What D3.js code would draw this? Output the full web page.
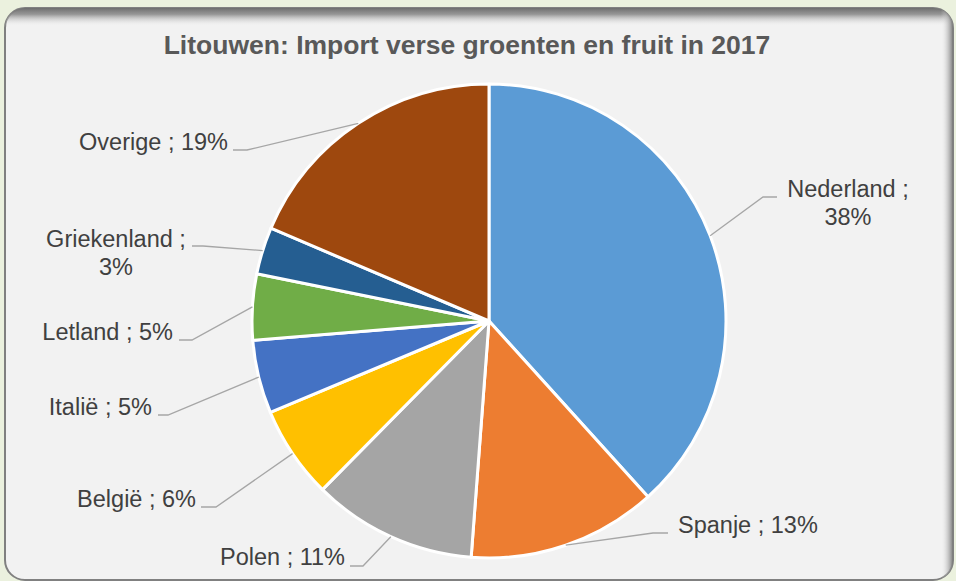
<!DOCTYPE html>
<html>
<head>
<meta charset="utf-8">
<script src="https://cdn.jsdelivr.net/npm/d3@7"></script>
<style>
  body { margin: 0; background: #ebf1de; }
  svg { display: block; }
</style>
</head>
<body>
<div id="chart-area"></div>
<script>
/*
*    Litouwen import pie
*/

// Data
var countries = ["Nederland", "Spanje", "Polen", "België", "Italië", "Letland", "Griekenland", "Overige"];
var shares = [38.3, 12.9, 11.2, 6.3, 5.0, 4.5, 3.2, 18.6];
var labelTexts = [["Nederland ;", "38%"], ["Spanje ; 13%"], ["Polen ; 11%"], ["België ; 6%"],
  ["Italië ; 5%"], ["Letland ; 5%"], ["Griekenland ;", "3%"], ["Overige ; 19%"]];
var colors = ["#5b9bd5", "#ed7d31", "#a5a5a5", "#ffc000", "#4472c4", "#70ad47", "#255e91", "#9e480e"];

var width = 956;
var height = 581;
var cx = 489, cy = 321, radius = 237;

// label layout: text anchor point, then elbow and end of the leader line
var labelLayout = [
  {x: 848, y: 197, anchor: "middle", elbow: [763, 197], end: [777, 197]},
  {x: 678, y: 533, anchor: "start",  elbow: [653, 533], end: [668, 533]},
  {x: 345, y: 565, anchor: "end",    elbow: [363, 566], end: [350, 566]},
  {x: 196, y: 507, anchor: "end",    elbow: [216, 507], end: [201, 507]},
  {x: 152, y: 415, anchor: "end",    elbow: [168, 415], end: [158, 415]},
  {x: 173, y: 340, anchor: "end",    elbow: [192, 340], end: [179, 340]},
  {x: 116, y: 247, anchor: "middle", elbow: [203, 246], end: [192, 246]},
  {x: 228, y: 150, anchor: "end",    elbow: [247, 150], end: [233, 150]}
];

//Canvas
var svg = d3.select("#chart-area")
  .append("svg")
    .attr("width", width)
    .attr("height", height);

var defs = svg.append("defs");

defs.append("clipPath").attr("id", "panel-clip")
  .append("rect")
    .attr("x", 5).attr("y", 8)
    .attr("width", 948).attr("height", 572)
    .attr("rx", 20).attr("ry", 20);

var topGrad = defs.append("linearGradient").attr("id", "top-shade")
  .attr("x1", 0).attr("y1", 0).attr("x2", 0).attr("y2", 1);
topGrad.append("stop").attr("offset", "0%").attr("stop-color", "#6e6e6e").attr("stop-opacity", 1);
topGrad.append("stop").attr("offset", "35%").attr("stop-color", "#8c8c8c").attr("stop-opacity", 0.9);
topGrad.append("stop").attr("offset", "100%").attr("stop-color", "#f2f2f2").attr("stop-opacity", 0);

var rightGrad = defs.append("linearGradient").attr("id", "right-shade")
  .attr("x1", 0).attr("y1", 0).attr("x2", 1).attr("y2", 0);
rightGrad.append("stop").attr("offset", "0%").attr("stop-color", "#f2f2f2").attr("stop-opacity", 0);
rightGrad.append("stop").attr("offset", "100%").attr("stop-color", "#7a7a7a").attr("stop-opacity", 1);

//Panel
svg.append("rect")
  .attr("x", 5).attr("y", 8)
  .attr("width", 948).attr("height", 572)
  .attr("rx", 20).attr("ry", 20)
  .attr("fill", "#f2f2f2")
  .attr("stroke", "#808080")
  .attr("stroke-width", 2);

var shade = svg.append("g").attr("clip-path", "url(#panel-clip)");
shade.append("rect")
  .attr("x", 0).attr("y", 8)
  .attr("width", width).attr("height", 18)
  .attr("fill", "url(#top-shade)");
shade.append("rect")
  .attr("x", 941).attr("y", 0)
  .attr("width", 12).attr("height", height)
  .attr("fill", "url(#right-shade)");

//Title
svg.append("text")
  .attr("x", 467)
  .attr("y", 54)
  .attr("text-anchor", "middle")
  .style("font-family", "'Liberation Sans', Arial, sans-serif")
  .style("font-size", "26.5px")
  .style("font-weight", "bold")
  .style("fill", "#595959")
  .text("Litouwen: Import verse groenten en fruit in 2017");

//Pie
var data = countries.map(function(c, i) {
  return {country: c, value: shares[i], color: colors[i], label: labelTexts[i], layout: labelLayout[i]};
});

var pie = d3.pie()
  .sort(null)
  .value(d => d.value);

var arc = d3.arc()
  .innerRadius(0)
  .outerRadius(radius);

var arcs = pie(data);

var g = svg.append("g")
  .attr("transform", "translate(" + cx + ", " + cy + ")");

g.selectAll("path.slice")
  .data(arcs)
  .enter().append("path")
    .attr("class", "slice")
    .attr("d", arc)
    .attr("fill", d => d.data.color)
    .attr("stroke", "#ffffff")
    .attr("stroke-width", 3)
    .attr("stroke-linejoin", "round");

//Leader lines
g.selectAll("polyline")
  .data(arcs)
  .enter().append("polyline")
    .attr("points", function(d) {
      var mid = (d.startAngle + d.endAngle) / 2;
      var p0 = [radius * Math.sin(mid), -radius * Math.cos(mid)];
      var l = d.data.layout;
      var p1 = [l.elbow[0] - cx, l.elbow[1] - cy];
      var p2 = [l.end[0] - cx, l.end[1] - cy];
      return [p0, p1, p2].map(p => p.join(",")).join(" ");
    })
    .attr("fill", "none")
    .attr("stroke", "#a6a6a6")
    .attr("stroke-width", 1.3);

//Labels
var labels = svg.selectAll("text.label")
  .data(data)
  .enter().append("text")
    .attr("class", "label")
    .attr("x", d => d.layout.x)
    .attr("y", d => d.layout.y)
    .attr("text-anchor", d => d.layout.anchor)
    .style("font-family", "'Liberation Sans', Arial, sans-serif")
    .style("font-size", "23.5px")
    .style("fill", "#404040");

labels.each(function(d) {
  var t = d3.select(this);
  d.label.forEach(function(line, i) {
    t.append("tspan")
      .attr("x", d.layout.x)
      .attr("dy", i === 0 ? 0 : 28)
      .text(line);
  });
});
</script>
</body>
</html>
